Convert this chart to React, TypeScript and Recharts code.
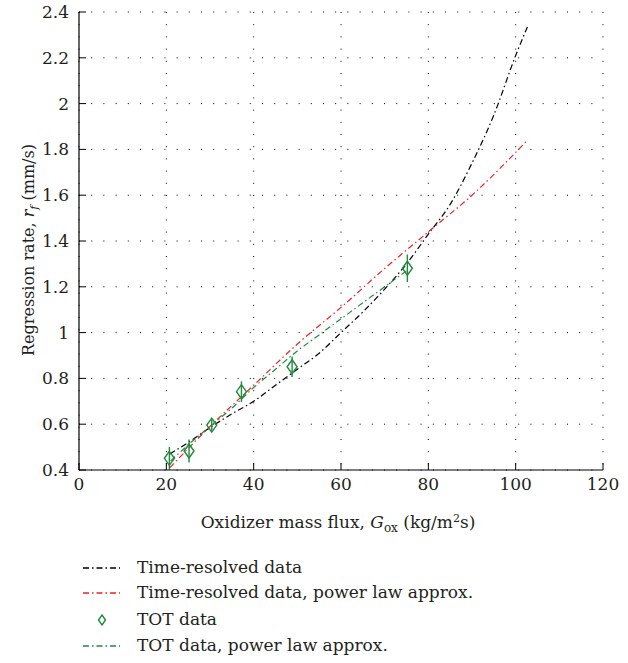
import {
  CartesianGrid,
  ComposedChart,
  ErrorBar,
  Line,
  Scatter,
  XAxis,
  YAxis,
} from "recharts";

const timeResolved = [
  { x: 20.8, y: 0.47 },
  { x: 25, y: 0.52 },
  { x: 30, y: 0.585 },
  { x: 35, y: 0.645 },
  { x: 40, y: 0.7 },
  { x: 45, y: 0.77 },
  { x: 50, y: 0.84 },
  { x: 55, y: 0.91 },
  { x: 60, y: 1.0 },
  { x: 65, y: 1.09 },
  { x: 70, y: 1.19 },
  { x: 75, y: 1.3 },
  { x: 80, y: 1.43 },
  { x: 85, y: 1.56 },
  { x: 90, y: 1.74 },
  { x: 95, y: 1.95 },
  { x: 100, y: 2.21 },
  { x: 102.8, y: 2.34 },
];

const timeResolvedFit = [
  { x: 20.8, y: 0.41 },
  { x: 30, y: 0.59 },
  { x: 40, y: 0.77 },
  { x: 50, y: 0.95 },
  { x: 60, y: 1.11 },
  { x: 70, y: 1.28 },
  { x: 80, y: 1.44 },
  { x: 90, y: 1.6 },
  { x: 102.7, y: 1.84 },
];

const totData = [
  { x: 20.7, y: 0.451, err: 0.05 },
  { x: 25.2, y: 0.483, err: 0.05 },
  { x: 30.4, y: 0.596, err: 0.025 },
  { x: 37.2, y: 0.742, err: 0.045 },
  { x: 48.8, y: 0.851, err: 0.045 },
  { x: 75.2, y: 1.281, err: 0.06 },
];

const totFit = [
  { x: 21, y: 0.44 },
  { x: 25, y: 0.51 },
  { x: 30, y: 0.59 },
  { x: 35, y: 0.67 },
  { x: 40, y: 0.76 },
  { x: 45, y: 0.84 },
  { x: 50, y: 0.92 },
  { x: 55, y: 0.99 },
  { x: 60, y: 1.06 },
  { x: 65, y: 1.13 },
  { x: 70, y: 1.2 },
  { x: 75, y: 1.27 },
];

const xTicks = [0, 20, 40, 60, 80, 100, 120];
const yTicks = [0.4, 0.6, 0.8, 1, 1.2, 1.4, 1.6, 1.8, 2, 2.2, 2.4];

const FONT = "DejaVu Serif";
const TEXT = "#231f20";
const GREEN = "#1f8a3e";
const RED = "#ec2227";
const DASH = "6 3 1.5 3";

const legendItems = [
  { label: "Time-resolved data", color: "#000000", kind: "line" },
  { label: "Time-resolved data, power law approx.", color: RED, kind: "line" },
  { label: "TOT data", color: GREEN, kind: "marker" },
  { label: "TOT data, power law approx.", color: GREEN, kind: "line" },
];
const legendBaselines = [33, 58, 85, 111];

const fontStyle = { fontFamily: FONT };

function Diamond(props: any) {
  const { cx, cy } = props;
  if (cx == null || cy == null) return null;
  const w = 5;
  const h = 7;
  return (
    <polygon
      points={`${cx},${cy - h} ${cx + w},${cy} ${cx},${cy + h} ${cx - w},${cy}`}
      fill="none"
      stroke={GREEN}
      strokeWidth={1.4}
    />
  );
}

function YLabel() {
  return (
    <text
      transform="translate(34, 250) rotate(-90)"
      textAnchor="middle"
      style={fontStyle}
      fontSize={16}
      fill={TEXT}
    >
      Regression rate, <tspan fontStyle="italic">r</tspan>
      <tspan fontStyle="italic" fontSize={11} dy={4}>f</tspan>
      <tspan dy={-4}> (mm/s)</tspan>
    </text>
  );
}

function XLabel() {
  return (
    <text x={338} y={528} textAnchor="middle" style={fontStyle} fontSize={17} fill={TEXT}>
      Oxidizer mass flux, <tspan fontStyle="italic">G</tspan>
      <tspan fontSize={12} dy={4}>ox</tspan>
      <tspan dy={-4}> (kg/m</tspan>
      <tspan fontSize={11} dy={-6}>2</tspan>
      <tspan dy={6}>s)</tspan>
    </text>
  );
}

export default function App() {
  return (
    <div style={{ position: "absolute", left: 0, top: 0, width: 628, height: 663, background: "#fff", fontFamily: FONT }}>
      <ComposedChart
        width={628}
        height={540}
        margin={{ top: 12, right: 25, left: 0, bottom: 0 }}
        style={fontStyle}
      >
        <CartesianGrid stroke="#000" strokeDasharray="1 11.2" strokeWidth={1} />
        <XAxis
          type="number"
          dataKey="x"
          domain={[0, 120]}
          ticks={xTicks}
          height={70}
          tickSize={-7}
          tickLine={{ stroke: "#000" }}
          axisLine={{ stroke: "#000", strokeWidth: 1.2 }}
          tick={{ fontSize: 17, fill: TEXT, style: fontStyle }}
          tickMargin={15}
          allowDataOverflow
        />
        <YAxis
          type="number"
          domain={[0.4, 2.4]}
          ticks={yTicks}
          width={79}
          tickSize={-7}
          tickLine={{ stroke: "#000" }}
          axisLine={{ stroke: "#000", strokeWidth: 1.2 }}
          tick={{ fontSize: 17, fill: TEXT, style: fontStyle }}
          tickMargin={17}
          allowDataOverflow
        />
        <Line
          data={timeResolved}
          dataKey="y"
          stroke="#000"
          strokeWidth={1.2}
          strokeDasharray={DASH}
          dot={false}
          type="monotone"
          isAnimationActive={false}
        />
        <Line
          data={timeResolvedFit}
          dataKey="y"
          stroke={RED}
          strokeWidth={1.2}
          strokeDasharray={DASH}
          dot={false}
          type="monotone"
          isAnimationActive={false}
        />
        <Line
          data={totFit}
          dataKey="y"
          stroke={GREEN}
          strokeWidth={1.2}
          strokeDasharray={DASH}
          dot={false}
          type="monotone"
          isAnimationActive={false}
        />
        <Scatter data={totData} dataKey="y" shape={<Diamond />} isAnimationActive={false}>
          <ErrorBar dataKey="err" direction="y" width={0} stroke={GREEN} strokeWidth={1.4} />
        </Scatter>
        <YLabel />
        <XLabel />
      </ComposedChart>
      <svg width={628} height={123} style={{ position: "absolute", left: 0, top: 540 }}>
        {legendItems.map((item, i) => {
          const base = legendBaselines[i];
          const cy = base - 5;
          return (
            <g key={item.label}>
              {item.kind === "line" ? (
                <line
                  x1={83}
                  x2={120}
                  y1={cy}
                  y2={cy}
                  stroke={item.color}
                  strokeWidth={1.3}
                  strokeDasharray={DASH}
                />
              ) : (
                <polygon
                  points={`102,${cy - 5} 105.5,${cy} 102,${cy + 5} 98.5,${cy}`}
                  fill="none"
                  stroke={item.color}
                  strokeWidth={1.4}
                />
              )}
              <text x={137} y={base} style={fontStyle} fontSize={17} fill={TEXT}>
                {item.label}
              </text>
            </g>
          );
        })}
      </svg>
    </div>
  );
}
